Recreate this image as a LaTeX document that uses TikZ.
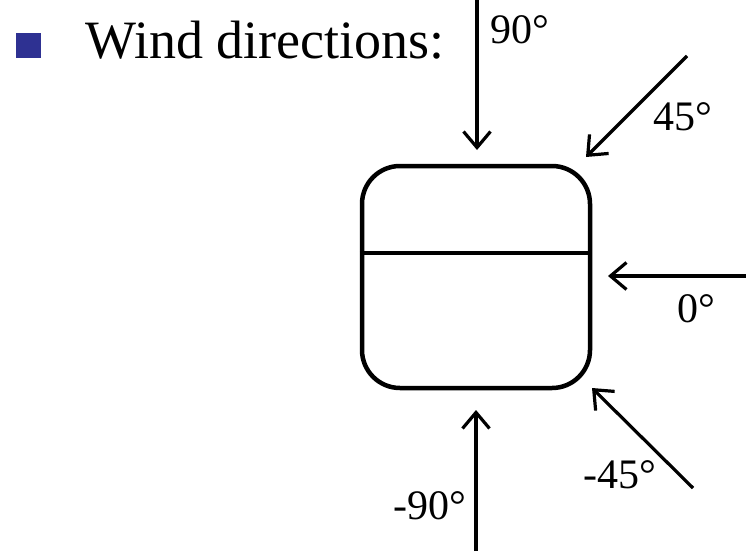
\documentclass[tikz,border=0pt]{standalone}
\usepackage{fontspec}
\setmainfont{Liberation Serif}
\usetikzlibrary{arrows.meta,calc}
\definecolor{bulletblue}{RGB}{46,49,146}

\begin{document}
\begin{tikzpicture}[
  x=1pt,y=-1pt,
  font=\fontsize{42}{48}\selectfont,
  >={Straight Barb[length=16pt,width=27pt]},
  wind/.style={->, line width=3.2pt},
  lab/.style={anchor=base west, inner sep=0pt},
  house/.style={draw, line width=4.5pt, rounded corners=38pt, minimum width=228pt, minimum height=222pt},
]
\useasboundingbox (0,0) rectangle (746,551);
% heading with bullet
\node[fill=bulletblue, minimum size=25pt, inner sep=0pt] (bul) at (28.5,46) {};
\node[lab, font=\fontsize{54}{60}\selectfont] (title) at (85,59) {Wind directions:};
% the building seen from above
\node[house] (bld) at (476,277) {};
\draw[line width=3.4pt] ($(bld.west)+(0,-24)$) -- ($(bld.east)+(0,-24)$);
% arrow ends
\coordinate (n0) at (477,0);   \coordinate (n1) at (477,150);
\coordinate (ne0) at (687,56); \coordinate (ne1) at (586,157);
\coordinate (e0) at (746,276); \coordinate (e1) at (608,276);
\coordinate (se0) at (693,488); \coordinate (se1) at (592,388);
\coordinate (s0) at (476,551); \coordinate (s1) at (476,410);
% wind arrows
\draw[wind] (n0) -- (n1);
\draw[wind] (ne0) -- (ne1);
\draw[wind] (e0) -- (e1);
\draw[wind] (se0) -- (se1);
\draw[wind] (s0) -- (s1);
% angle labels
\node[lab] (l90) at (490,44) {90°};
\node[lab] (l45) at (653,130) {45°};
\node[lab] (l0) at (677,322) {0°};
\node[lab] (lm45) at (583,488) {-45°};
\node[lab] (lm90) at (393,519) {-90°};
\end{tikzpicture}
\end{document}
